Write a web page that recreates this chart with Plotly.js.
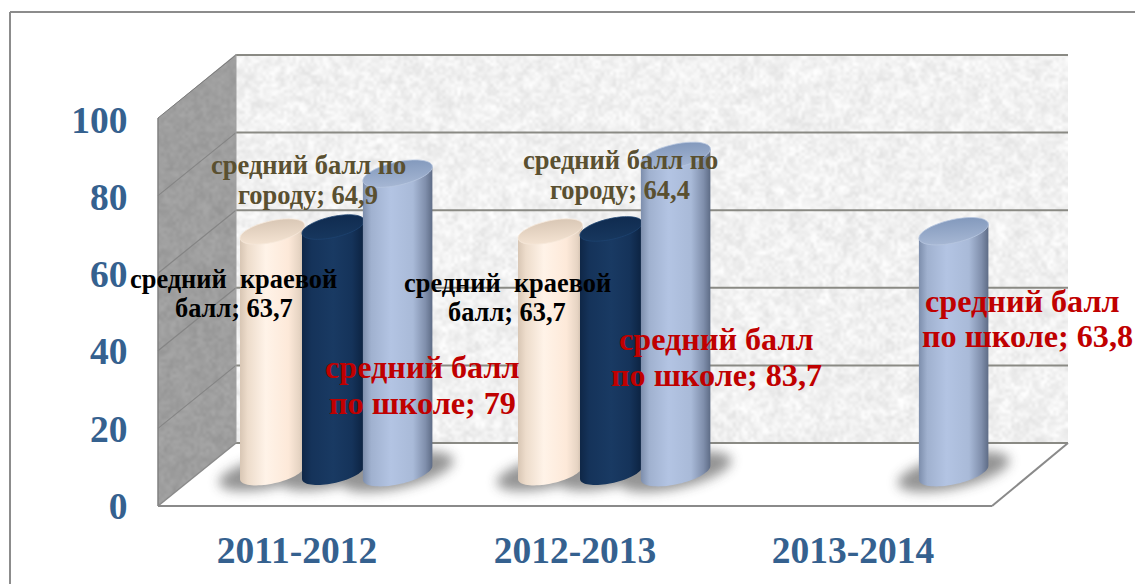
<!DOCTYPE html>
<html>
<head>
<meta charset="utf-8">
<script src="https://cdn.plot.ly/plotly-3.0.1.min.js"></script>
<style>html,body{margin:0;padding:0;background:#fff;overflow:hidden}#chart{width:1135px;height:584px}</style>
</head>
<body>
<div id="chart"></div>
<script>
// ---- data ----
const categories = ['2011-2012', '2012-2013', '2013-2014'];
const regionalName = ['средний\u00A0\u00A0краевой', 'балл'];
const cityName = ['средний балл по', 'городу'];
const schoolName = ['средний балл', 'по школе'];
const regionalValues = [63.7, 63.7, null];
const cityValues = [64.9, 64.4, null];
const schoolValues = [79, 83.7, 63.8];
const yTicks = [0, 20, 40, 60, 80, 100];

// ---- layout helpers (page pixels to paper fractions) ----
const W = 1135, H = 584;
const px = x => x / W, py = y => 1 - y / H;
const FL = 158, FR = 992, FB = 506, FT = 118, BL = 236, BR = 1068, DY = 63;
const frontY = v => FB - (FB - FT) * v / 100;
const GRID = '#8a8a84', BLUE = '#35618f', SERIF = '"Liberation Serif", "Times New Roman", serif';

function line(x0, y0, x1, y1, color, width) {
  return {type: 'line', xref: 'paper', yref: 'paper', x0: px(x0), y0: py(y0), x1: px(x1), y1: py(y1),
          line: {color: color, width: width}, layer: 'below'};
}
function poly(points, fill) {
  const d = points.map((p, i) => (i ? 'L' : 'M') + px(p[0]) + ',' + py(p[1])).join(' ') + ' Z';
  return {type: 'path', xref: 'paper', yref: 'paper', path: d, fillcolor: fill, line: {width: 0}, layer: 'below'};
}

// ---- wall textures (fixed sequence, decoration only) ----
function texture(w, h, base, ampCoarse, ampFine, clipPts) {
  let seed = 12345;
  const next = () => (seed = (seed * 1103515245 + 12345) & 0x7fffffff) / 0x7fffffff;
  const layer = (cw, ch, amp) => {
    const c = document.createElement('canvas'); c.width = cw; c.height = ch;
    const g = c.getContext('2d'), im = g.createImageData(cw, ch);
    for (let i = 0; i < cw * ch; i++) {
      const v = Math.min(255, Math.max(0, base + (next() - 0.5) * 2 * amp));
      im.data[i * 4] = im.data[i * 4 + 1] = im.data[i * 4 + 2] = v; im.data[i * 4 + 3] = 255;
    }
    g.putImageData(im, 0, 0); return c;
  };
  const out = document.createElement('canvas'); out.width = w; out.height = h;
  const g = out.getContext('2d');
  if (clipPts) {
    g.beginPath(); clipPts.forEach((p, i) => i ? g.lineTo(p[0], p[1]) : g.moveTo(p[0], p[1])); g.closePath(); g.clip();
  }
  g.imageSmoothingEnabled = true;
  g.imageSmoothingQuality = 'high';
  g.drawImage(layer(Math.ceil(w / 7), Math.ceil(h / 7), ampCoarse), 0, 0, w, h);
  g.globalAlpha = 0.5;
  g.drawImage(layer(Math.ceil(w / 3), Math.ceil(h / 3), ampFine), 0, 0, w, h);
  return out.toDataURL('image/png');
}

const images = [
  {source: texture(BR - BL, 443 - 54, 241, 15, 17), xref: 'paper', yref: 'paper', x: px(BL), y: py(54),
   sizex: (BR - BL) / W, sizey: (443 - 54) / H, sizing: 'stretch', xanchor: 'left', yanchor: 'top', layer: 'below'},
  {source: texture(BL - FL, FB - 54, 158, 9, 12,
     [[0, FT - 54], [BL - FL, 0], [BL - FL, 443 - 54], [0, FB - 54]]),
   xref: 'paper', yref: 'paper', x: px(FL), y: py(54),
   sizex: (BL - FL) / W, sizey: (FB - 54) / H, sizing: 'stretch', xanchor: 'left', yanchor: 'top', layer: 'below'}
];

// ---- chart furniture ----
const shapes = [
  line(10, 12, W, 12, '#8c8c8c', 2),
  line(10, 12, 10, H, '#8c8c8c', 2),
  poly([[FL, FB], [BL, 443], [BR, 443], [FR, FB]], '#ffffff')
];
yTicks.forEach(v => {
  const y = frontY(v);
  if (v > 0) shapes.push(line(FL, y, BL, y - DY, v === 100 ? '#7c7c7c' : '#858585', v === 100 ? 1 : 1.2));
  shapes.push(line(BL, y - DY, BR, y - DY, GRID, 2));
});
shapes.push(line(FL, FT, FL, FB, '#808080', 1.5));
shapes.push(line(BL, 54, BL, 443, '#a0a0a0', 1));
shapes.push(line(FL, FB, BL, 443, '#8a8a8a', 1.5));
shapes.push(line(FL, FB, FR, FB, '#8a8a8a', 2));
shapes.push(line(FR, FB, BR, 443, '#8a8a8a', 2));

// ---- traces ----
const helper = {type: 'scatter', mode: 'markers', x: categories, y: categories.map(() => 0), xaxis: 'x', yaxis: 'y',
                marker: {opacity: 0, size: 1}, hoverinfo: 'skip', showlegend: false};
const bar = (name, values, color, offset, width) => ({
  type: 'bar', name: name.join(' '), x: categories, y: values, xaxis: 'x2', yaxis: 'y2',
  offset: offset, width: width, marker: {color: color, line: {width: 0}}, hoverinfo: 'skip', showlegend: false, cliponaxis: false
});
const traces = [
  helper,
  bar(regionalName, regionalValues, '#fbe9d9', -0.345, 0.232),
  bar(cityName, cityValues, '#17375e', -0.122, 0.224),
  bar(schoolName, schoolValues, '#b1c2e0', 0.097, 0.25)
];

// ---- data labels: two lines, each its own annotation for exact leading ----
const fmt = v => String(v).replace('.', ',');
const textLine = (text, cx, cy, size, color) => ({
  text: text, xref: 'paper', yref: 'paper', x: px(cx), y: py(cy),
  xanchor: 'center', yanchor: 'middle', align: 'center', showarrow: false,
  font: {family: SERIF, size: size, color: color, weight: 700}
});
const label = (name, value, cx, cy, size, leading, color, firstLineShift) => [
  textLine(name[0], cx + (firstLineShift || 0), cy - leading / 2, size, color),
  textLine(name[1] + '; ' + fmt(value), cx, cy + leading / 2, size, color)
];
const OLIVE = '#5a5030', RED = '#c00000', BLACK = '#000000';
const annotations = [].concat(
  label(cityName, cityValues[0], 308, 180, 26.5, 29, OLIVE),
  label(cityName, cityValues[1], 620, 175, 26.5, 30, OLIVE),
  label(regionalName, regionalValues[0], 234, 293, 26.4, 29, BLACK),
  label(regionalName, regionalValues[1], 507, 297, 26.4, 29, BLACK),
  label(schoolName, schoolValues[0], 422, 385, 32.2, 36, RED),
  label(schoolName, schoolValues[1], 716, 357, 32.2, 36, RED),
  label(schoolName, schoolValues[2], 1027, 318.5, 32.2, 35, RED, -5)
);
const tickFont = {family: SERIF, size: 37.5, color: BLUE, weight: 700};
const floorY = 473, unitPx = 3.81;   // bars stand on the receded floor, foreshortened
const layout = {
  width: W, height: H, margin: {l: 0, r: 0, t: 0, b: 0}, paper_bgcolor: '#ffffff', plot_bgcolor: 'rgba(0,0,0,0)',
  showlegend: false, barmode: 'overlay', hovermode: false,
  xaxis: {type: 'category', categories: categories, categoryorder: 'array', categoryarray: categories,
          domain: [px(FL), px(FR)], range: [-0.5, 2.5], anchor: 'y', position: 0, showgrid: false, zeroline: false, showline: false,
          ticks: 'outside', ticklen: 11, tickcolor: 'rgba(0,0,0,0)', tickfont: tickFont, fixedrange: true},
  yaxis: {domain: [py(505.5), py(120)], range: [0, 100], tickvals: yTicks, showgrid: false, zeroline: false, showline: false,
          ticks: 'outside', ticklen: 22, tickcolor: 'rgba(0,0,0,0)', tickfont: tickFont, fixedrange: true},
  xaxis2: {type: 'category', categoryorder: 'array', categoryarray: categories, overlaying: 'x', anchor: 'y2',
           domain: [px(FL), px(FR)], range: [-0.64, 2.36], visible: false, fixedrange: true},
  yaxis2: {overlaying: 'y', anchor: 'x2', domain: [py(FB), py(FT)],
           range: [-(FB - floorY) / unitPx, (floorY - FT) / unitPx], visible: false, fixedrange: true},
  images: images, shapes: shapes, annotations: annotations
};

// ---- cylinder look: reshapes each drawn bar using the box the library computed ----
const SVGNS = 'http://www.w3.org/2000/svg';
function el(tag, attrs, parent) {
  const e = document.createElementNS(SVGNS, tag);
  Object.keys(attrs).forEach(k => e.setAttribute(k, attrs[k]));
  if (parent) parent.appendChild(e);
  return e;
}
function gradient(defs, id, vertical, stops) {
  const g = el('linearGradient', vertical ? {id: id, x1: 0, y1: 0, x2: 0.15, y2: 1} : {id: id, x1: 0, y1: 0, x2: 1, y2: 0}, defs);
  stops.forEach(s => el('stop', {offset: s[0], 'stop-color': s[1]}, g));
}
const SHEAR = 0.2, RY = 0.34;
function ellipsePoint(cx, cy, rx, ry, t) {
  return [cx + rx * Math.cos(t), cy - SHEAR * rx * Math.cos(t) + ry * Math.sin(t)];
}
function ellipsePath(cx, cy, rx, ry) {
  let d = '';
  for (let i = 0; i < 72; i++) {
    const p = ellipsePoint(cx, cy, rx, ry, i / 72 * 2 * Math.PI);
    d += (i ? 'L' : 'M') + p[0].toFixed(2) + ',' + p[1].toFixed(2);
  }
  return d + 'Z';
}
const looks = [
  {body: 'bCream', cap: 'cCream', rim: '#f6e8da'},
  {body: 'bNavy', cap: 'cNavy', rim: '#1d4270'},
  {body: 'bBlue', cap: 'cBlue', rim: '#b7c6e0'}
];
Plotly.newPlot('chart', traces, layout, {staticPlot: true, displayModeBar: false}).then(gd => {
  const svg = gd.querySelector('svg.main-svg');
  const defs = svg.querySelector('defs');
  gradient(defs, 'bCream', false, [[0, '#d8c6b4'], [0.12, '#eddccb'], [0.4, '#fff3e8'], [0.75, '#fde9d9'], [0.92, '#e6d4c3'], [1, '#c9b8a7']]);
  gradient(defs, 'bNavy', false, [[0, '#0f2747'], [0.15, '#15335a'], [0.5, '#193a63'], [0.8, '#15335a'], [1, '#0c2240']]);
  gradient(defs, 'bBlue', false, [[0, '#7d8eac'], [0.12, '#a0b1cf'], [0.4, '#b3c4e3'], [0.72, '#a9bad8'], [0.9, '#808fac'], [1, '#5e6c86']]);
  gradient(defs, 'cCream', true, [[0, '#d6c4b2'], [1, '#f3e2d1']]);
  gradient(defs, 'cNavy', true, [[0, '#0f2a4e'], [1, '#17375e']]);
  gradient(defs, 'cBlue', true, [[0, '#7f96ba'], [1, '#a5b6d3']]);
  const blur = el('filter', {id: 'shadowBlur', x: '-30%', y: '-80%', width: '160%', height: '260%'}, defs);
  el('feGaussianBlur', {stdDeviation: 6}, blur);

  const layer = svg.querySelector('.barlayer');
  const shadow = el('g', {filter: 'url(#shadowBlur)', opacity: 0.55});
  layer.insertBefore(shadow, layer.firstChild);

  layer.querySelectorAll('.trace.bars').forEach((tr, ti) => {
    tr.querySelectorAll('.point path').forEach(path => {
      const m = /M([\d.\-]+),([\d.\-]+)V([\d.\-]+)H([\d.\-]+)V/.exec(path.getAttribute('d') || '');
      if (!m) return;
      const xl = +m[1], yb = +m[2], yt = +m[3], xr = +m[4];
      const cx = (xl + xr) / 2, rx = (xr - xl) / 2, ry = rx * RY, off = SHEAR * rx;
      let d = 'M' + xl + ',' + (yt + off) + 'L' + xr + ',' + (yt - off) + 'L' + xr + ',' + (yb - off);
      for (let i = 1; i <= 36; i++) {
        const p = ellipsePoint(cx, yb, rx, ry, i / 36 * Math.PI);
        d += 'L' + p[0].toFixed(2) + ',' + p[1].toFixed(2);
      }
      path.setAttribute('d', d + 'Z');
      path.style.fill = 'url(#' + looks[ti].body + ')';
      path.style.fillOpacity = 1;
      el('path', {d: ellipsePath(cx, yb - 1, rx + 21, ry + 5), fill: '#3c3c3c'}, shadow);
      const cap = el('path', {d: ellipsePath(cx, yt, rx, ry)}, path.parentNode);
      cap.style.fill = 'url(#' + looks[ti].cap + ')';
      cap.style.stroke = looks[ti].rim;
      cap.style.strokeWidth = '0.8px';
    });
  });
});
</script>
</body>
</html>
